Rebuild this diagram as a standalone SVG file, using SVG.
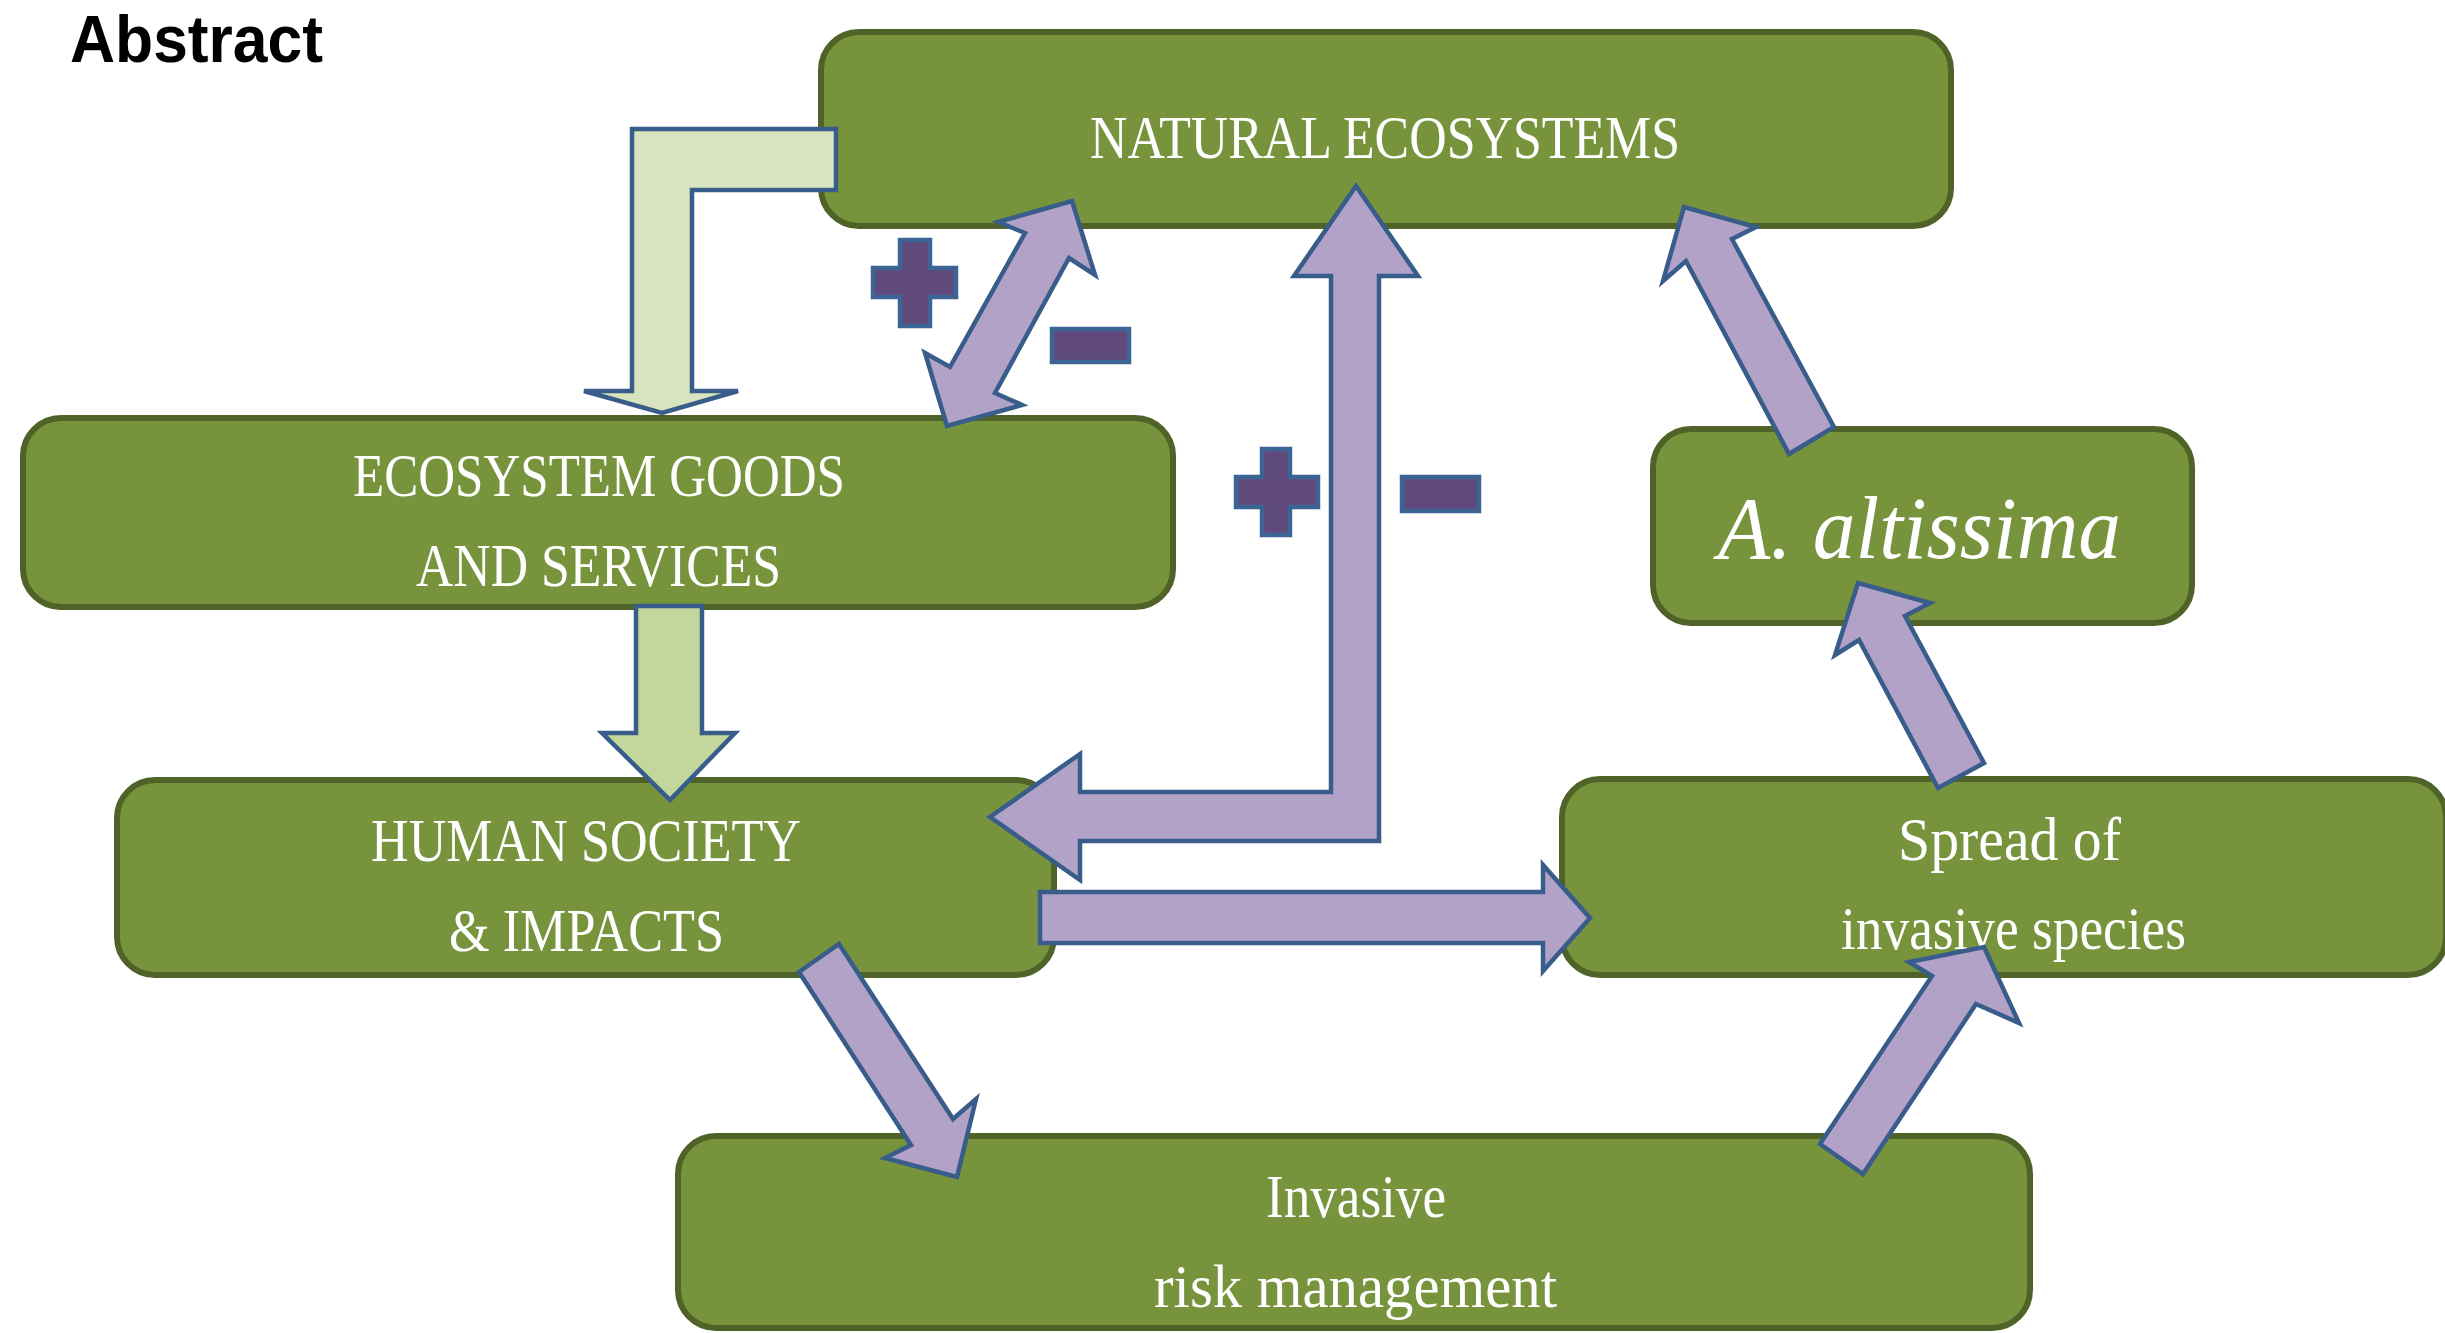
<svg xmlns="http://www.w3.org/2000/svg" width="2445" height="1333" viewBox="0 0 2445 1333">
  <style>
    .box { fill: #77933c; stroke: #4f6228; stroke-width: 6; }
    .lbl { fill: #ffffff; font-family: "Liberation Serif", "DejaVu Serif", serif; font-size: 62px; }
    .ital { font-style: italic; font-size: 88px; }
    .flow { fill: #b2a2c7; stroke: #385d8a; stroke-width: 4.5; stroke-linejoin: miter; }
    .pale { fill: #d7e4bd; stroke: #385d8a; stroke-width: 4.5; }
    .lime { fill: #c3d69b; stroke: #385d8a; stroke-width: 4.5; }
    .sign { fill: #604a7b; stroke: #3c6494; stroke-width: 4.5; }
    .title { fill: #000000; font-family: "Liberation Sans", "DejaVu Sans", sans-serif; font-weight: bold; font-size: 66px; }
  </style>

  <rect width="2445" height="1333" fill="#ffffff"/>

  <text class="title" x="70" y="62" textLength="253" lengthAdjust="spacingAndGlyphs">Abstract</text>

  <!-- nodes -->
  <g id="natural-ecosystems">
    <rect class="box" x="821" y="32" width="1130" height="194" rx="38"/>
    <text class="lbl" x="1090" y="158" textLength="590" lengthAdjust="spacingAndGlyphs">NATURAL ECOSYSTEMS</text>
  </g>
  <g id="ecosystem-goods">
    <rect class="box" x="23" y="418" width="1150" height="189" rx="38"/>
    <text class="lbl" x="353" y="496" textLength="492" lengthAdjust="spacingAndGlyphs">ECOSYSTEM GOODS</text>
    <text class="lbl" x="416" y="586" textLength="365" lengthAdjust="spacingAndGlyphs">AND SERVICES</text>
  </g>
  <g id="human-society">
    <rect class="box" x="117" y="780" width="937" height="195" rx="38"/>
    <text class="lbl" x="371" y="861" textLength="430" lengthAdjust="spacingAndGlyphs">HUMAN SOCIETY</text>
    <text class="lbl" x="449" y="951" textLength="275" lengthAdjust="spacingAndGlyphs">&amp; IMPACTS</text>
  </g>
  <g id="a-altissima">
    <rect class="box" x="1653" y="429" width="539" height="194" rx="38"/>
    <text class="lbl ital" x="1718" y="558" textLength="403" lengthAdjust="spacingAndGlyphs">A. altissima</text>
  </g>
  <g id="spread-invasive">
    <rect class="box" x="1562" y="779" width="884" height="196" rx="38"/>
    <text class="lbl" x="1898" y="860" textLength="223" lengthAdjust="spacingAndGlyphs">Spread of</text>
    <text class="lbl" x="1841" y="949" textLength="345" lengthAdjust="spacingAndGlyphs">invasive species</text>
  </g>
  <g id="risk-management">
    <rect class="box" x="678" y="1136" width="1352" height="192" rx="38"/>
    <text class="lbl" x="1266" y="1217" textLength="180" lengthAdjust="spacingAndGlyphs">Invasive</text>
    <text class="lbl" x="1154" y="1307" textLength="403" lengthAdjust="spacingAndGlyphs">risk management</text>
  </g>

  <!-- connectors -->
  <g id="connectors">
    <!-- natural ecosystems to goods and services (bent) -->
    <polygon class="pale" points="632,129 836,129 836,190 692,190 692,391 738,391 662,413 584,391 632,391"/>
    <!-- goods and services to human society -->
    <polygon class="lime" points="636,606 702,606 702,733 735,733 670,800 602,733 636,733"/>
    <!-- two-way link natural ecosystems / goods and services -->
    <polygon class="flow" points="1072,201 1095,275 1069,258 995,393 1022,405 947,426 925,353 950,367 1025,233 998,222"/>
    <!-- two-way bent link natural ecosystems / human society -->
    <polygon class="flow" points="1356,186 1418,276 1379,276 1379,841 1080,841 1080,880 990,817 1080,754 1080,792 1331,792 1331,276 1294,276"/>
    <!-- human society to spread -->
    <polygon class="flow" points="1040,892 1543,892 1543,865 1590,918 1543,971 1543,943 1040,943"/>
    <!-- human society to risk management -->
    <polygon class="flow" points="839,944 953,1119 976,1099 957,1177 885,1158 911,1145 799,972"/>
    <!-- risk management to spread -->
    <polygon class="flow" points="1820,1144 1932,976 1909,962 1984,947 2019,1023 1976,1004 1863,1174"/>
    <!-- spread to A. altissima -->
    <polygon class="flow" points="1984,763 1905,616 1930,603 1858,583 1835,655 1859,640 1938,788"/>
    <!-- A. altissima to natural ecosystems -->
    <polygon class="flow" points="1834,427 1732,239 1756,227 1684,207 1663,281 1686,261 1789,454"/>
  </g>

  <!-- plus / minus marks -->
  <g id="signs">
    <polygon class="sign" points="900,240 930,240 930,268 956,268 956,297 930,297 930,326 900,326 900,297 873,297 873,268 900,268"/>
    <rect class="sign" x="1052" y="329" width="77" height="33"/>
    <polygon class="sign" points="1262,449 1290,449 1290,477 1318,477 1318,507 1290,507 1290,535 1262,535 1262,507 1236,507 1236,477 1262,477"/>
    <rect class="sign" x="1402" y="477" width="77" height="34"/>
  </g>
</svg>
